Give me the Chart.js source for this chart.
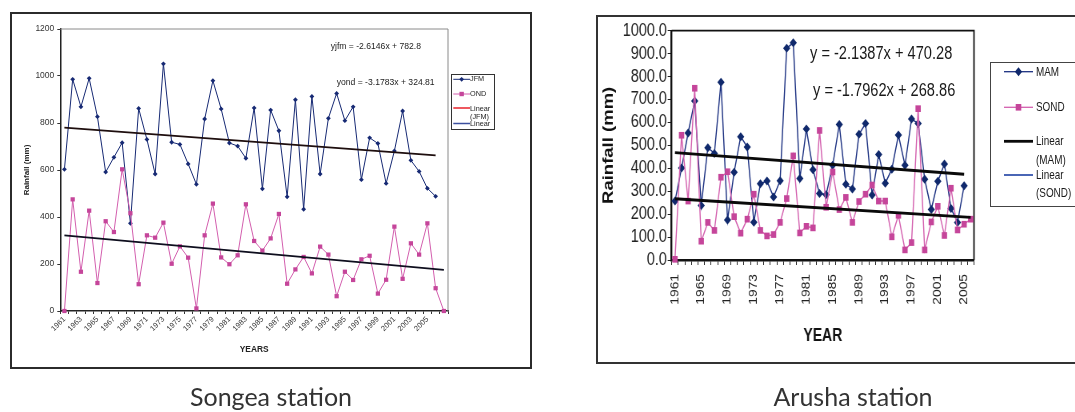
<!DOCTYPE html>
<html>
<head>
<meta charset="utf-8">
<script src="https://cdn.jsdelivr.net/npm/chart.js@4.4.1/dist/chart.umd.min.js"></script>
<style>
  html, body { margin: 0; padding: 0; background: #fff; }
  body { width: 1075px; height: 412px; position: relative; overflow: hidden; }
  .frame { position: absolute; box-sizing: border-box; }
  .lbl { position: absolute; white-space: nowrap; line-height: 1; }
  canvas { position: absolute; left: 0; top: 0; }
</style>
</head>
<body>
<div class="frame" style="left:10px;top:12px;width:522px;height:357px;border:2px solid #2b2b2b"></div>
<div class="frame" style="left:596px;top:15px;width:500px;height:349px;border:2px solid #333"></div>
<div style="position:absolute;left:12px;top:14px;width:440px;height:345px">
  <canvas id="songea" width="440" height="345"></canvas>
</div>
<!-- the Arusha panel is horizontally squeezed in the source figure -->
<div style="position:absolute;left:600px;top:18px;width:475px;height:330px;transform:scaleX(0.8);transform-origin:0 0">
  <canvas id="arusha" width="475" height="330"></canvas>
</div>
<svg id="swatches" width="1075" height="412" style="position:absolute;left:0;top:0"></svg>

<script>
// ============================================
// DATA: SONGEA (JFM / OND)
// ============================================
const songeaYears = [
  '1961','1962','1963','1964','1965','1966','1967','1968','1969','1970',
  '1971','1972','1973','1974','1975','1976','1977','1978','1979','1980',
  '1981','1982','1983','1984','1985','1986','1987','1988','1989','1990',
  '1991','1992','1993','1994','1995','1996','1997','1998','1999','2000',
  '2001','2002','2003','2004','2005','2006','2007'
];
const songeaShownYears = [
  '1961','1963','1965','1967','1969','1971','1973','1975','1977','1979','1981','1983',
  '1985','1987','1989','1991','1993','1995','1997','1999','2001','2003','2005'
];
const jfmRain = [
  603, 986, 869, 990, 827, 591, 654, 716, 373, 862,
  730, 583, 1052, 718, 709, 626, 539, 817, 980, 860,
  715, 702, 650, 864, 520, 855, 767, 486, 899, 433,
  913, 583, 820, 926, 810, 869, 559, 737, 713, 543,
  681, 851, 641, 594, 522, 488
];
const ondRain = [
  0, 475, 167, 427, 119, 382, 336, 603, 416, 114,
  322, 312, 376, 201, 275, 227, 11, 322, 457, 228,
  199, 237, 454, 298, 257, 309, 413, 116, 177, 230,
  160, 274, 240, 63, 167, 132, 220, 235, 74, 133,
  359, 137, 288, 240, 373, 97, 0
];
const songeaTicks = [0, 200, 400, 600, 800, 1000, 1200];
const jfmFit = [-2.6146, 782.8];
const ondFit = [-3.1783, 324.81];

// ============================================
// DATA: ARUSHA (MAM / SOND)
// ============================================
const arushaYears = [
  '1961','1962','1963','1964','1965','1966','1967','1968','1969','1970',
  '1971','1972','1973','1974','1975','1976','1977','1978','1979','1980',
  '1981','1982','1983','1984','1985','1986','1987','1988','1989','1990',
  '1991','1992','1993','1994','1995','1996','1997','1998','1999','2000',
  '2001','2002','2003','2004','2005','2006'
];
const arushaShownYears = [
  '1961','1965','1969','1973','1977','1981','1985','1989','1993','1997','2001','2005'
];
const mamRain = [
  257, 401, 554, 693, 238, 490, 465, 775, 174, 383,
  538, 493, 165, 333, 344, 275, 346, 924, 947, 355,
  571, 394, 290, 285, 413, 591, 330, 310, 548, 595,
  283, 460, 335, 396, 545, 413, 615, 595, 352, 220,
  343, 419, 225, 164, 324
];
const sondRain = [
  3, 544, 257, 749, 82, 164, 129, 361, 385, 189,
  117, 178, 287, 129, 105, 111, 164, 268, 454, 118,
  147, 140, 565, 230, 384, 220, 273, 164, 255, 287,
  327, 257, 257, 101, 195, 44, 76, 660, 44, 166,
  234, 107, 313, 131, 156, 178
];
const mamFit = [-2.1387, 470.28];
const sondFit = [-1.7962, 268.86];

// ============================================
// STYLE
// ============================================
const SANS   = "'Liberation Sans', Arial, sans-serif";
const NAVY   = '#172a74';
const PINK   = '#c5459a';
const PINK_LINE = '#d35fae';
const SQUEEZE = 0.8;   // horizontal squeeze of the Arusha panel

Chart.defaults.animation = false;
Chart.defaults.plugins.tooltip.enabled = false;

// trend line endpoints from the equation printed on the chart (x = 1..n)
function trendPoints(labels, fit, n) {
  return [
    { x: labels[0],     y: fit[0] * 1 + fit[1] },
    { x: labels[n - 1], y: fit[0] * n + fit[1] }
  ];
}

function fitText(prefix, fit) {
  return prefix + ' = ' + fit[0] + 'x + ' + fit[1];
}

// fixed axis box size, no extra label padding pushed into the layout
function fixBox(prop, size) {
  return s => {
    s[prop] = size;
    s.paddingLeft = 0; s.paddingRight = 0;
    s.paddingTop = 0; s.paddingBottom = 0;
  };
}

// draws top/right edges of the plot area (left/bottom are axis borders)
const plotFrame = {
  id: 'plotFrame',
  beforeDatasetsDraw(chart, args, opts) {
    const { ctx, chartArea: a } = chart;
    ctx.save();
    ctx.strokeStyle = opts.color;
    ctx.lineWidth = opts.width;
    ctx.beginPath();
    ctx.moveTo(a.left, a.top);
    ctx.lineTo(a.right, a.top);
    ctx.lineTo(a.right, a.bottom);
    ctx.stroke();
    ctx.restore();
  }
};

// ============================================
// 1. SONGEA CHART
// ============================================
new Chart(document.getElementById('songea'), {
  type: 'line',
  plugins: [plotFrame],
  data: {
    labels: songeaYears,
    datasets: [
      {
        label: 'Linear (JFM)', data: trendPoints(songeaYears, jfmFit, jfmRain.length),
        borderColor: '#1e0e0e', borderWidth: 1.8, pointRadius: 0, order: 0
      },
      {
        label: 'Linear (OND)', data: trendPoints(songeaYears, ondFit, ondRain.length),
        borderColor: '#0e0e1e', borderWidth: 1.8, pointRadius: 0, order: 0
      },
      {
        label: 'OND', data: ondRain, borderColor: PINK_LINE, borderWidth: 1,
        pointStyle: 'rect', pointRadius: 3, pointBackgroundColor: PINK, pointBorderWidth: 0,
        clip: false, order: 1
      },
      {
        label: 'JFM', data: jfmRain, borderColor: NAVY, borderWidth: 1,
        pointStyle: 'rectRot', pointRadius: 2.4, pointBackgroundColor: NAVY, pointBorderWidth: 0,
        clip: false, order: 2
      }
    ]
  },
  options: {
    responsive: false,
    layout: { padding: { top: 15, right: 2.7, bottom: 0, left: 0 } },
    plugins: { legend: { display: false }, plotFrame: { color: '#8a8a8a', width: 1 } },
    scales: {
      x: {
        offset: true,
        grid: { offset: true, drawOnChartArea: false, drawTicks: true, tickLength: 3, color: '#333' },
        border: { color: '#222', width: 1.5 },
        ticks: {
          autoSkip: false, minRotation: 45, maxRotation: 45, padding: 1,
          color: '#333', font: { family: SANS, size: 7.5 },
          callback(v) {
            const y = this.getLabelForValue(v);
            return songeaShownYears.includes(y) ? y : '';
          }
        },
        title: {
          display: true, text: 'YEARS', color: '#222',
          font: { family: SANS, size: 8.4, weight: 'bold' }, padding: { top: 0, bottom: 4 }
        },
        afterFit: fixBox('height', 48)
      },
      y: {
        min: 0, max: 1200,
        afterBuildTicks(s) { s.ticks = songeaTicks.map(v => ({ value: v })); },
        grid: { drawOnChartArea: false, drawTicks: true, tickLength: 3, color: '#333' },
        border: { color: '#222', width: 1.5 },
        ticks: {
          padding: 3, color: '#333', font: { family: SANS, size: 8.5 },
          callback: v => String(v)
        },
        title: {
          display: true, text: 'Rainfall (mm)', color: '#222',
          font: { family: SANS, size: 8, weight: 'bold', lineHeight: 1.2 }, padding: { top: 10, bottom: 0 }
        },
        afterFit: fixBox('width', 48.3)
      }
    }
  }
});

// ============================================
// 2. ARUSHA CHART (logical canvas, squeezed by CSS)
// ============================================
new Chart(document.getElementById('arusha'), {
  type: 'line',
  plugins: [plotFrame],
  data: {
    labels: arushaYears,
    datasets: [
      {
        label: 'Linear (MAM)', data: trendPoints(arushaYears, mamFit, mamRain.length),
        borderColor: '#0a0a0a', borderWidth: 2.8, pointRadius: 0, order: 0
      },
      {
        label: 'Linear (SOND)', data: trendPoints(arushaYears, sondFit, sondRain.length),
        borderColor: '#0a0a0a', borderWidth: 2.8, pointRadius: 0, order: 0
      },
      {
        label: 'SOND', data: sondRain, borderColor: PINK_LINE, borderWidth: 1.4,
        pointStyle: 'rect', pointRadius: 4.7, pointBackgroundColor: PINK, pointBorderWidth: 0,
        clip: false, order: 1
      },
      {
        label: 'MAM', data: mamRain, borderColor: '#1a2f80', borderWidth: 1.4,
        pointStyle: 'rectRot', pointRadius: 4.5, pointBackgroundColor: '#10296c', pointBorderWidth: 0,
        clip: false, order: 2
      }
    ]
  },
  options: {
    responsive: false,
    layout: { padding: { top: 12.7, right: 7.5, bottom: 0, left: 0 } },
    plugins: { legend: { display: false }, plotFrame: { color: '#111', width: 1.8 } },
    scales: {
      x: {
        offset: true,
        grid: { offset: true, drawOnChartArea: false, drawTicks: true, tickLength: 5, color: '#222' },
        border: { color: '#111', width: 2.4 },
        ticks: {
          autoSkip: false, minRotation: 90, maxRotation: 90, padding: 9,
          color: '#222', font: { family: SANS, size: 13.8 },
          callback(v) {
            const y = this.getLabelForValue(v);
            return arushaShownYears.includes(y) ? y : '';
          }
        },
        title: {
          display: true, text: 'YEAR', color: '#111',
          font: { family: SANS, size: 17.5, weight: 'bold', lineHeight: 1.2 }, padding: { top: 0, bottom: 1.3 }
        },
        afterFit: fixBox('height', 88)
      },
      y: {
        min: 0, max: 1000,
        ticks: {
          stepSize: 100, autoSkip: false, padding: 1, color: '#222',
          font: { family: SANS, size: 18 },
          callback: v => v.toFixed(1)
        },
        grid: { drawOnChartArea: false, drawTicks: true, tickLength: 5, color: '#222' },
        border: { color: '#111', width: 2.4 },
        title: {
          display: true, text: 'Rainfall (mm)', color: '#111',
          font: { family: SANS, size: 18.5, weight: 'bold', lineHeight: 1 }, padding: { top: 1.75, bottom: 0 }
        },
        afterFit: fixBox('width', 71.7 / SQUEEZE)
      }
    }
  }
});

// ============================================
// 3. TEXT, LEGENDS, CAPTIONS
// ============================================
function placeText(text, x, y, css, center, squeeze) {
  const el = document.createElement('div');
  el.className = 'lbl';
  el.textContent = text;
  el.style.left = x + 'px';
  el.style.top = y + 'px';
  el.style.transformOrigin = '0 50%';
  el.style.transform = (center ? 'translate(-50%,-50%)' : 'translate(0,-50%)') +
    (squeeze ? ' scaleX(' + squeeze + ')' : '');
  Object.assign(el.style, css);
  document.body.appendChild(el);
  return el;
}

// regression equations
const smallEq = { fontFamily: SANS, fontSize: '8.6px', color: '#222' };
placeText(fitText('yjfm', jfmFit), 330.7, 45.7, smallEq);
placeText(fitText('yond', ondFit), 336.7, 81.7, smallEq);
const bigEq = { fontFamily: SANS, fontSize: '18.3px', color: '#1a1a1a' };
placeText(fitText('y', mamFit), 810, 53.3, bigEq, false, SQUEEZE);
placeText(fitText('y', sondFit), 812.7, 90, bigEq, false, SQUEEZE);

// legend boxes
function legendBox(x, y, w, h, border) {
  const el = document.createElement('div');
  el.className = 'frame';
  Object.assign(el.style, {
    left: x + 'px', top: y + 'px', width: w + 'px', height: h + 'px',
    border: border, background: '#fff', overflow: 'hidden'
  });
  document.body.appendChild(el);
  return el;
}

const svg = document.getElementById('swatches');
function swatch(x1, x2, y, color, width, marker, rx, ry, fill) {
  const NS = 'http://www.w3.org/2000/svg';
  const ln = document.createElementNS(NS, 'line');
  ln.setAttribute('x1', x1); ln.setAttribute('x2', x2);
  ln.setAttribute('y1', y); ln.setAttribute('y2', y);
  ln.setAttribute('stroke', color); ln.setAttribute('stroke-width', width);
  svg.appendChild(ln);
  if (!marker) return;
  const cx = (x1 + x2) / 2;
  const p = document.createElementNS(NS, 'polygon');
  const pts = marker === 'diamond'
    ? [[cx, y - ry], [cx + rx, y], [cx, y + ry], [cx - rx, y]]
    : [[cx - rx, y - ry], [cx + rx, y - ry], [cx + rx, y + ry], [cx - rx, y + ry]];
  p.setAttribute('points', pts.map(q => q.join(',')).join(' '));
  p.setAttribute('fill', fill);
  svg.appendChild(p);
}

// Songea legend
const sBox = legendBox(450.7, 74, 44.3, 56, '1px solid #333');
const sFont = { fontFamily: SANS, fontSize: '7.3px', color: '#222' };
swatch(453.3, 470, 79.3, NAVY, 1, 'diamond', 2.4, 2.4, NAVY);
swatch(453.3, 470, 94, PINK_LINE, 1, 'square', 2.2, 2.2, PINK);
swatch(453.3, 470, 108, '#e8202a', 1.5);
swatch(453.3, 470, 123.5, '#3b4f9e', 1.5);
[['JFM', 79.3], ['OND', 94], ['Linear', 108.7], ['(JFM)', 117.3], ['Linear', 124.3], ['(OND)', 133]]
  .forEach(([t, y]) => sBox.appendChild(placeText(t, 470 - 451.7, y - 75, sFont)));

// Arusha legend
const aBox = legendBox(990, 62, 100, 145, '1px solid #444');
const aFont = { fontFamily: SANS, fontSize: '12.4px', color: '#1a1a1a' };
swatch(1004, 1033, 71.7, '#1a2f80', 1.3, 'diamond', 3.6, 4.5, '#10296c');
swatch(1004, 1033, 107.3, PINK_LINE, 1.3, 'square', 2.8, 3.3, PINK);
swatch(1004, 1033, 141.3, '#0a0a0a', 2.8);
swatch(1004, 1033, 175, '#4a66b5', 2);
[['MAM', 71.7], ['SOND', 107.3], ['Linear', 141.3], ['(MAM)', 160], ['Linear', 175], ['(SOND)', 193]]
  .forEach(([t, y]) => aBox.appendChild(placeText(t, 1035.5 - 991, y - 63, aFont, false, SQUEEZE)));
document.body.appendChild(svg);

// station captions
const capFont = { fontFamily: "Lato, 'Open Sans', sans-serif", fontSize: '25px', color: '#333' };
placeText('Songea station', 271, 396, capFont, true);
placeText('Arusha station', 853, 396, capFont, true);
</script>
</body>
</html>
